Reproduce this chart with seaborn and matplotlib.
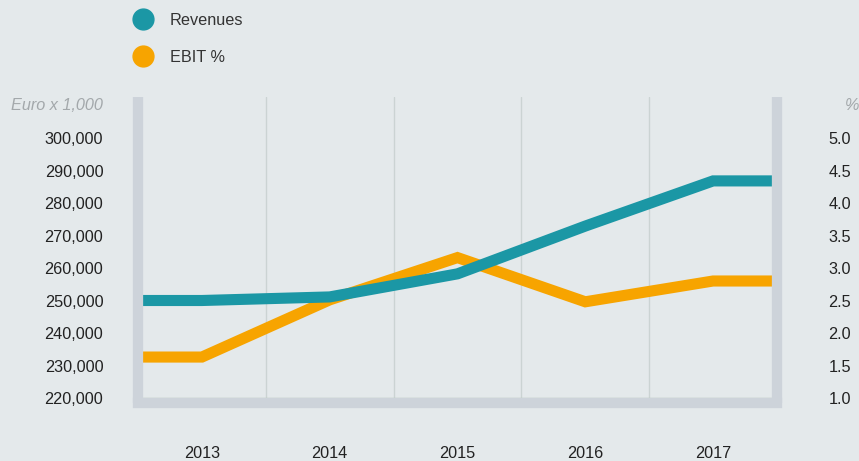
import matplotlib
matplotlib.use("Agg")
import matplotlib.pyplot as plt
import seaborn as sns
from matplotlib.lines import Line2D

# values
years = [2013, 2014, 2015, 2016, 2017]
revenues = [250000, 251100, 258200, 272900, 286800]
ebit_pct = [1.63, 2.51, 3.16, 2.48, 2.80]

rev_ticks = [220000, 230000, 240000, 250000, 260000, 270000, 280000, 290000, 300000]
pct_ticks = [1.0, 1.5, 2.0, 2.5, 3.0, 3.5, 4.0, 4.5, 5.0]

bg = "#e4e9eb"
teal = "#1b97a5"
orange = "#f7a400"
frame = "#cdd3da"
grid = "#cbd3d3"
fs = 11.7

sns.set_theme(style="white")
plt.rcParams["font.family"] = ["Liberation Sans", "DejaVu Sans"]

fig = plt.figure(figsize=(8.59, 4.61), dpi=100)
fig.patch.set_facecolor(bg)

W, H = 859, 461
left, right, top, bottom = 138, 777, 97, 403
ax = fig.add_axes([left / W, 1 - bottom / H, (right - left) / W, (bottom - top) / H])
ax2 = ax.twinx()
ax.patch.set_visible(False)
ax2.patch.set_visible(False)

# lines are flat out to the edges of the plot area
xs = [years[0] - 0.5] + years + [years[-1] + 0.5]
rev_line = [revenues[0]] + revenues + [revenues[-1]]
pct_line = [ebit_pct[0]] + ebit_pct + [ebit_pct[-1]]

# EBIT on the lower axes so the revenue line sits on top
sns.lineplot(x=xs, y=pct_line, ax=ax, color=orange, linewidth=8, sort=False,
             solid_joinstyle="miter", solid_capstyle="butt")
sns.lineplot(x=xs, y=rev_line, ax=ax2, color=teal, linewidth=8, sort=False,
             solid_joinstyle="miter", solid_capstyle="butt")

px = 3.25 / 1000  # pixels per euro (x1000) step
ax2.set_ylim(rev_ticks[0] - 5 / px, rev_ticks[0] + (bottom - 5 - top) / px)
ppct = 65.0
ax.set_ylim(pct_ticks[0] - 5 / ppct, pct_ticks[0] + (bottom - 5 - top) / ppct)
ax.set_xlim(years[0] - 0.5, years[-1] + 0.5)

# vertical grid between years
ax.set_xticks([y + 0.5 for y in years[:-1]], minor=True)
ax.grid(which="minor", axis="x", color=grid, linewidth=1)
ax.grid(which="major", visible=False)
ax2.grid(False)

ax.set_xticks(years)
ax.set_xticklabels([str(y) for y in years])
ax.tick_params(axis="x", which="both", length=0, pad=31, labelsize=fs, labelcolor="#222222")

ax2.yaxis.tick_left()
ax2.set_yticks(rev_ticks)
ax2.set_yticklabels([f"{v:,}" for v in rev_ticks])
ax2.tick_params(axis="y", length=0, pad=25, labelsize=fs, labelcolor="#222222")

ax.yaxis.tick_right()
ax.set_yticks(pct_ticks)
ax.set_yticklabels([f"{v:.1f}" for v in pct_ticks])
ax.tick_params(axis="y", length=0, pad=37, labelsize=fs, labelcolor="#222222")

ax2.axhline(rev_ticks[0], color="#b7cfb9", linewidth=1, zorder=1)

for a in (ax, ax2):
    for s in a.spines.values():
        s.set_visible(False)
for name in ("left", "right", "bottom"):
    sp = ax2.spines[name]
    sp.set_visible(True)
    sp.set_color(frame)
    sp.set_linewidth(7.4)
    sp.set_capstyle("projecting" if name == "bottom" else "butt")
    sp.set_zorder(3)

fig.text(103 / W, 1 - 106 / H, "Euro x 1,000", ha="right", va="center",
         style="italic", color="#a3a8ab", fontsize=fs)
fig.text(845 / W, 1 - 106 / H, "%", ha="left", va="center",
         style="italic", color="#a3a8ab", fontsize=fs)

handles = [Line2D([], [], marker="o", linestyle="", markersize=15, color=teal),
           Line2D([], [], marker="o", linestyle="", markersize=15, color=orange)]
leg = fig.legend(handles, ["Revenues", "EBIT %"], loc="upper left",
                 bbox_to_anchor=(131 / W, 1 - 13 / H), frameon=False,
                 borderaxespad=0, borderpad=0, handlelength=1.5,
                 handletextpad=0.9, labelspacing=1.35, fontsize=fs)
for t in leg.get_texts():
    t.set_color("#333333")

fig.savefig("out.png", dpi=100, facecolor=bg)
